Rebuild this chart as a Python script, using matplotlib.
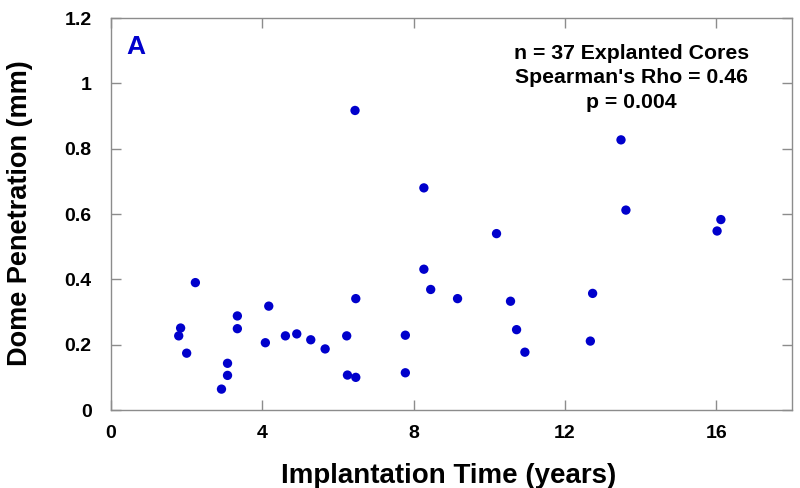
import matplotlib
matplotlib.use("Agg")
from matplotlib import pyplot as plt

# implantation time (years) and dome penetration (mm)
years = [6.45, 8.27, 8.27, 8.45, 2.23, 6.47, 4.17, 3.34, 3.34, 1.84, 1.79, 2.00,
         3.08, 3.08, 2.92, 4.08, 4.61, 4.91, 5.28, 5.66, 6.23, 6.25, 6.47, 7.78,
         7.78, 13.48, 13.61, 16.12, 16.02, 10.19, 12.73, 9.16, 10.56, 10.72,
         10.94, 12.67]
penetration = [0.917, 0.680, 0.431, 0.369, 0.390, 0.341, 0.318, 0.288, 0.249,
               0.251, 0.227, 0.174, 0.143, 0.106, 0.064, 0.206, 0.227, 0.233,
               0.215, 0.187, 0.227, 0.107, 0.100, 0.229, 0.114, 0.827, 0.612,
               0.583, 0.548, 0.540, 0.357, 0.341, 0.333, 0.246, 0.177, 0.211]

x_ticks = [0, 4, 8, 12, 16]
y_ticks = [0, 0.2, 0.4, 0.6, 0.8, 1, 1.2]
y_tick_labels = ["0", "0.2", "0.4", "0.6", "0.8", "1", "1.2"]
stats_text = "n = 37 Explanted Cores\nSpearman's Rho = 0.46\np = 0.004"

plt.rcParams["font.family"] = ["Liberation Sans", "DejaVu Sans"]
plt.rcParams["font.weight"] = "bold"

blue = "#0000cc"
grey = "#8c8c8c"

fig = plt.figure(figsize=(8, 4.88), dpi=100)
ax = fig.add_axes([0.13875, 0.1598, 0.85125, 0.8033])

ax.scatter(years, penetration, s=45, color=blue, edgecolors="none", zorder=3)

ax.set_xlim(0, 18)
ax.set_ylim(0, 1.2)
ax.set_xticks(x_ticks)
ax.set_yticks(y_ticks)
ax.set_xticklabels([str(t) for t in x_ticks])
ax.set_yticklabels(y_tick_labels)

for sp in ax.spines.values():
    sp.set_color(grey)
    sp.set_linewidth(1.0)
ax.tick_params(direction="in", length=7, width=1, color=grey,
               top=True, right=True, labelsize=14)
ax.tick_params(axis="y", pad=14)
ax.tick_params(axis="x", pad=11)

# axis titles placed in figure coords
fig.text(449 / 800, 1 - 476 / 488, "Implantation Time (years)", fontsize=20,
         fontweight="bold", ha="center", va="center")
fig.text(20 / 800, 1 - 213 / 488, "Dome Penetration (mm)", fontsize=19.5,
         fontweight="bold", ha="center", va="center", rotation=90)

ax.text(0.037, 0.925, "A", transform=ax.transAxes, color=blue,
        fontsize=19, fontweight="bold", ha="center", va="center")
ax.text(0.764, 0.847, stats_text, transform=ax.transAxes, ha="center",
        va="center", fontsize=15.3, fontweight="bold", linespacing=1.38)

fig.savefig("out.png", dpi=100)
